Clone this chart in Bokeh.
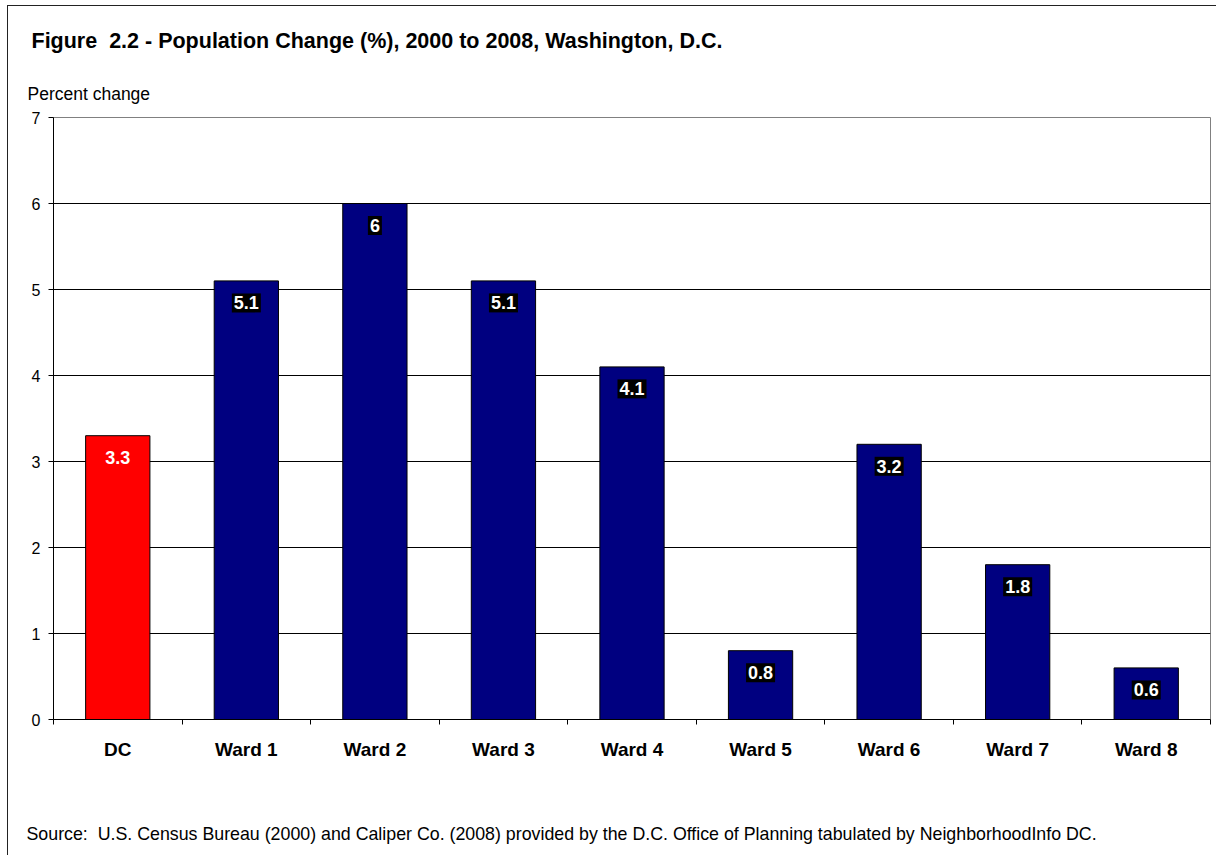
from bokeh.plotting import figure
from bokeh.models import Range1d, LinearAxis, FixedTicker, Label, ColumnDataSource, Title
from bokeh.embed import file_html
from bokeh.resources import INLINE

categories = ["DC", "Ward 1", "Ward 2", "Ward 3", "Ward 4", "Ward 5", "Ward 6", "Ward 7", "Ward 8"]
values = [3.3, 5.1, 6.0, 5.1, 4.1, 0.8, 3.2, 1.8, 0.6]
value_labels = ["3.3", "5.1", "6", "5.1", "4.1", "0.8", "3.2", "1.8", "0.6"]
y_ticks = [0, 1, 2, 3, 4, 5, 6, 7]

title_text = "Figure\u00a0 2.2 - Population Change (%), 2000 to 2008, Washington, D.C."
y_title = "Percent change"
source_text = ("Source:\u00a0 U.S. Census Bureau (2000) and Caliper Co. (2008) provided by the D.C. "
               "Office of Planning tabulated by NeighborhoodInfo DC.")

FONT = "Liberation Sans"
W, H = 1209, 850

n = len(categories)
centers = [i + 0.5 for i in range(n)]
colors = ["#FF0000" if c == "DC" else "#000080" for c in categories]
src = ColumnDataSource(dict(x=centers, val=values, color=colors))

p = figure(width=W, height=H, x_range=Range1d(0, n), y_range=Range1d(0, 7),
           output_backend="svg", toolbar_location=None,
           x_axis_location=None, y_axis_location=None,
           min_border_left=45, min_border_right=7, min_border_top=111, min_border_bottom=137)
p.styles = {"margin-left": "7px", "margin-top": "5px",
            "border-left": "1px solid #222", "border-top": "1px solid #222"}
p.outline_line_color = "#808080"
p.outline_line_width = 1
p.background_fill_color = "white"
p.border_fill_color = "white"

p.xgrid.visible = False
p.ygrid.ticker = FixedTicker(ticks=y_ticks[1:-1])
p.ygrid.grid_line_color = "black"
p.ygrid.grid_line_width = 1

p.vbar(x="x", top="val", width=0.5, source=src, fill_color="color",
       line_color="black", line_width=1)

# y axis
yaxis = LinearAxis(ticker=FixedTicker(ticks=y_ticks))
yaxis.axis_line_color = "black"
yaxis.major_tick_in = 0
yaxis.major_tick_out = 5
yaxis.minor_tick_line_color = None
yaxis.major_label_standoff = 8
yaxis.major_label_text_font = FONT
yaxis.major_label_text_font_size = "16px"
yaxis.major_label_text_color = "black"
p.add_layout(yaxis, "left")

# x axis tick marks at category boundaries
xticks = LinearAxis(ticker=FixedTicker(ticks=list(range(n + 1))))
xticks.major_tick_in = 0
xticks.major_tick_out = 5
xticks.minor_tick_line_color = None
xticks.axis_line_color = "black"
xticks.major_label_overrides = {i: "" for i in range(n + 1)}
xticks.major_label_text_font_size = "1px"
xticks.major_label_standoff = 0
p.add_layout(xticks, "below")

# x category labels
xlab = LinearAxis(ticker=FixedTicker(ticks=centers))
xlab.major_label_overrides = {x: c for x, c in zip(centers, categories)}
xlab.axis_line_color = None
xlab.major_tick_line_color = None
xlab.minor_tick_line_color = None
xlab.major_tick_out = 0
xlab.major_tick_in = 0
xlab.major_label_standoff = 14
xlab.major_label_text_font = FONT
xlab.major_label_text_font_size = "19px"
xlab.major_label_text_font_style = "bold"
xlab.major_label_text_color = "black"
p.add_layout(xlab, "below")

# data labels
for x, c, v, t in zip(centers, categories, values, value_labels):
    is_dc = c == "DC"
    p.add_layout(Label(x=x, y=v, y_offset=-22, text=t,
                       text_align="center", text_baseline="middle", text_color="white",
                       text_font=FONT, text_font_size="18px", text_font_style="bold",
                       background_fill_color=None if is_dc else "black",
                       padding=dict(left=2, right=2, top=3, bottom=3)))

# titles and source note
p.add_layout(Title(text=y_title, align="left", offset=-26, standoff=27,
                   text_font=FONT, text_font_size="17.5px", text_font_style="normal",
                   text_color="black"), "above")
p.add_layout(Title(text=title_text, align="left", offset=-22, standoff=31,
                   text_font=FONT, text_font_size="21.5px", text_font_style="bold",
                   text_color="black"), "above")
# empty spacer between the category labels and the source note
p.add_layout(Title(text="\u00a0", standoff=56, text_font_size="1px"), "below")
p.add_layout(Title(text=source_text, align="left", offset=-27, standoff=0,
                   text_font=FONT, text_font_size="17.8px", text_font_style="normal",
                   text_color="black"), "below")

open("out.html", "w").write(file_html(p, INLINE))
